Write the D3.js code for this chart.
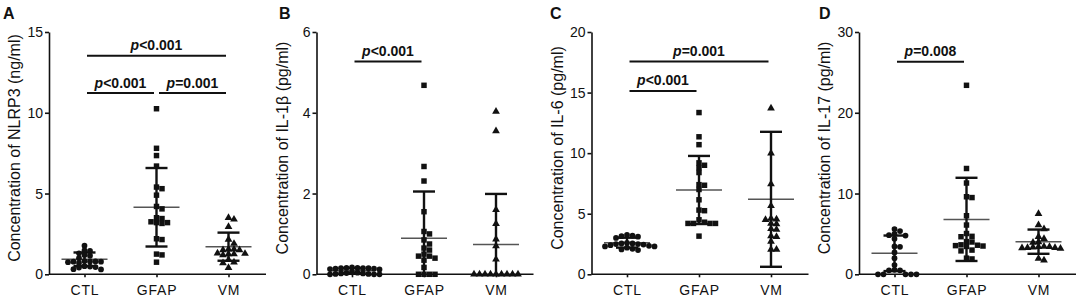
<!DOCTYPE html>
<html lang="en">
  <head>
    <meta charset="utf-8" />
    <title>Cytokine concentrations by group</title>
    <script src="https://cdnjs.cloudflare.com/ajax/libs/d3/7.8.5/d3.min.js"></script>
    <style type="text/css">
      body { margin: 0; background: #fff; }
      svg text { font-family: "Liberation Sans", Arial, sans-serif; fill: #111; }
    </style>
  </head>

  <body>
    <div id="chart"></div>
    <script>
      const groups = ['CTL', 'GFAP', 'VM'];

      // A - NLRP3 (ng/ml)
      const nlrp3CTL = [1.77, 1.48, 1.45, 1.3, 1.2, 1.15, 1.0, 0.82, 0.8, 0.8, 0.78, 0.78, 0.75, 0.7, 0.5, 0.48, 0.45, 0.42, 0.32, 0.3];
      const nlrp3GFAP = [10.25, 7.8, 7.35, 6.7, 5.4, 5.3, 4.9, 4.2, 4.05, 3.5, 3.45, 3.25, 3.2, 3.2, 3.15, 2.2, 2.15, 1.25, 1.2, 0.75];
      const nlrp3VM = [3.5, 3.4, 2.95, 2.15, 1.9, 1.55, 1.55, 1.5, 1.5, 1.3, 1.28, 1.25, 1.25, 1.2, 0.9, 0.75, 0.7, 0.4];
      const nlrp3Mean = [0.93, 4.15, 1.71];
      const nlrp3SD = [0.42, 2.43, 0.87];
      const nlrp3Ticks = [0, 5, 10, 15];

      // B - IL-1β (pg/ml)
      const il1bCTL = [0.17, 0.16, 0.16, 0.15, 0.15, 0.15, 0.14, 0.14, 0.13, 0.12, 0.05, 0.04, 0.03, 0.02, 0.02, 0.01, 0.01, 0, 0, 0];
      const il1bGFAP = [4.68, 2.67, 2.31, 1.55, 1.06, 1.0, 0.85, 0.75, 0.65, 0.6, 0.5, 0.45, 0.45, 0.4, 0.35, 0.17, 0, 0, 0, 0];
      const il1bVM = [4.03, 3.55, 1.6, 1.25, 0.87, 0.7, 0.37, 0, 0, 0, 0, 0, 0, 0, 0, 0];
      const il1bMean = [0.09, 0.89, 0.74];
      const il1bSD = [0.06, 1.16, 1.25];
      const il1bTicks = [0, 2, 4, 6];

      // C - IL-6 (pg/ml)
      const il6CTL = [3.25, 3.2, 3.15, 3.1, 3.0, 2.6, 2.55, 2.55, 2.5, 2.5, 2.45, 2.4, 2.35, 2.3, 2.3, 2.2, 2.1, 2.05, 2.0];
      const il6GFAP = [13.35, 11.35, 10.7, 9.2, 9.0, 8.8, 8.4, 7.4, 7.35, 7.0, 6.15, 5.3, 5.25, 4.5, 4.3, 4.2, 4.2, 4.2, 4.2, 3.15];
      const il6VM = [13.7, 10.0, 7.45, 5.65, 4.6, 4.55, 4.5, 4.2, 4.15, 3.75, 3.7, 3.15, 3.1, 2.7, 2.05, 2.05];
      const il6Mean = [2.61, 6.96, 6.19];
      const il6SD = [0.41, 2.81, 5.57];
      const il6Ticks = [0, 5, 10, 15, 20];

      // D - IL-17 (pg/ml)
      const il17CTL = [5.6, 5.35, 5.0, 4.85, 4.8, 4.4, 3.45, 3.4, 2.7, 2.0, 1.15, 0.55, 0.5, 0.5, 0, 0, 0, 0, 0];
      const il17GFAP = [23.4, 13.1, 11.3, 9.6, 9.5, 7.25, 6.1, 5.05, 4.7, 4.65, 4.05, 4.0, 3.65, 3.6, 3.55, 3.5, 3.45, 3.0, 2.9, 2.0, 1.9];
      const il17VM = [7.5, 6.1, 5.6, 4.65, 4.4, 4.0, 3.95, 3.45, 3.4, 3.4, 3.35, 3.3, 3.3, 3.25, 3.2, 1.95, 1.75];
      const il17Mean = [2.6, 6.8, 4.04];
      const il17SD = [2.2, 5.15, 1.5];
      const il17Ticks = [0, 10, 20, 30];

      // significance bars: [from, to, height, label]
      const nlrp3Sig = [['CTL', 'VM', 13.53, '<0.001'], ['CTL', 'GFAP', 11.22, '<0.001'], ['GFAP', 'VM', 11.22, '=0.001']];
      const il1bSig = [['CTL', 'GFAP', 5.27, '<0.001']];
      const il6Sig = [['CTL', 'VM', 17.56, '=0.001'], ['CTL', 'GFAP', 15.14, '<0.001']];
      const il17Sig = [['CTL', 'GFAP', 26.32, '=0.008']];

      const panels = [
        { letter: 'A', label: 'Concentration of NLRP3 (ng/ml)', ticks: nlrp3Ticks, values: [nlrp3CTL, nlrp3GFAP, nlrp3VM], mean: nlrp3Mean, sd: nlrp3SD, sig: nlrp3Sig, x0: 49, lx: 3 },
        { letter: 'B', label: 'Concentration of IL-1β (pg/ml)', ticks: il1bTicks, values: [il1bCTL, il1bGFAP, il1bVM], mean: il1bMean, sd: il1bSD, sig: il1bSig, x0: 316.5, lx: 279 },
        { letter: 'C', label: 'Concentration of IL-6 (pg/ml)', ticks: il6Ticks, values: [il6CTL, il6GFAP, il6VM], mean: il6Mean, sd: il6SD, sig: il6Sig, x0: 591.5, lx: 550 },
        { letter: 'D', label: 'Concentration of IL-17 (pg/ml)', ticks: il17Ticks, values: [il17CTL, il17GFAP, il17VM], mean: il17Mean, sd: il17SD, sig: il17Sig, x0: 859, lx: 819 },
      ];

      const W = 1084, H = 308;
      const yTop = 32, yBottom = 274.3;
      const ink = '#111';
      const symbols = [d3.symbolCircle, d3.symbolSquare, d3.symbolTriangle];
      const symSize = [26, 30, 26];

      const svg = d3.select('#chart')
        .append('svg')
        .attr('width', W)
        .attr('height', H);

      // simple beeswarm so overlapping points sit side by side
      function dodge(vals, y, step, minDy) {
        const placed = [];
        const offs = new Array(vals.length);
        const order = vals.map((v, i) => i).sort((a, b) => vals[b] - vals[a]);
        for (const i of order) {
          const py = y(vals[i]);
          for (let k = 0; ; k++) {
            const o = (k % 2 ? 1 : -1) * Math.ceil(k / 2) * step;
            const hit = placed.some(p => Math.abs(p.y - py) < minDy && Math.abs(p.x - o) < step * 0.9);
            if (!hit) {
              offs[i] = o;
              placed.push({ x: o, y: py });
              break;
            }
          }
        }
        return offs;
      }

      panels.forEach(p => {
        const g = svg.append('g');
        const x = d3.scalePoint().domain(groups).range([p.x0 + 35.5, p.x0 + 179.5]);
        const y = d3.scaleLinear().domain([0, d3.max(p.ticks)]).range([yBottom, yTop]);

        // panel letter
        g.append('text')
          .attr('x', p.lx).attr('y', 18.5)
          .attr('font-size', 16).attr('font-weight', 'bold')
          .text(p.letter);

        // y axis
        const ya = g.append('g')
          .attr('transform', `translate(${p.x0},0)`)
          .call(d3.axisLeft(y).tickValues(p.ticks).tickFormat(d3.format('d'))
            .tickSize(4).tickSizeOuter(0).tickPadding(2));
        ya.selectAll('path, line').attr('stroke', ink).attr('stroke-width', 1.6);
        ya.selectAll('text').attr('font-size', 14).attr('fill', '#111');

        // x axis
        const xa = g.append('g')
          .attr('transform', `translate(0,${yBottom})`)
          .call(d3.axisBottom(x).tickSize(3).tickSizeOuter(0).tickPadding(8));
        xa.select('.domain').attr('d', `M${p.x0},0H${p.x0 + 217}`);
        xa.selectAll('path, line').attr('stroke', ink).attr('stroke-width', 1.6);
        xa.selectAll('text').attr('font-size', 14).attr('letter-spacing', '0.8px').attr('fill', '#111');

        // y label
        g.append('text')
          .attr('transform', `translate(${p.x0 - 29},148) rotate(-90)`)
          .attr('text-anchor', 'middle')
          .attr('font-size', 16)
          .text(p.label);

        // mean lines
        g.selectAll('.mean')
          .data(groups)
          .join('line')
          .attr('x1', d => x(d) - 23).attr('x2', d => x(d) + 23)
          .attr('y1', (d, i) => y(p.mean[i])).attr('y2', (d, i) => y(p.mean[i]))
          .attr('stroke', '#555').attr('stroke-width', 1.5);

        // SD whiskers
        groups.forEach((grp, i) => {
          const hi = p.mean[i] + p.sd[i];
          const lo = Math.max(0, p.mean[i] - p.sd[i]);
          g.append('line')
            .attr('x1', x(grp)).attr('x2', x(grp))
            .attr('y1', y(hi)).attr('y2', y(lo))
            .attr('stroke', ink).attr('stroke-width', 2.4);
          const caps = p.mean[i] - p.sd[i] > 0 ? [hi, lo] : [hi];
          caps.forEach(v => {
            g.append('line')
              .attr('x1', x(grp) - 11).attr('x2', x(grp) + 11)
              .attr('y1', y(v)).attr('y2', y(v))
              .attr('stroke', ink).attr('stroke-width', 2.4);
          });
        });

        // points
        groups.forEach((grp, i) => {
          const vals = p.values[i];
          const offs = dodge(vals, y, 5.5, 4.5);
          g.selectAll(`.pt${i}`)
            .data(vals)
            .join('path')
            .attr('d', d3.symbol().type(symbols[i]).size(symSize[i]))
            .attr('transform', (d, j) => `translate(${x(grp) + offs[j]},${y(d)})`)
            .attr('fill', ink);
        });

        // significance bars
        p.sig.forEach(([a, b, h, lab]) => {
          const x1 = x(a) + 2.5, x2 = x(b) - 2.5;
          g.append('line')
            .attr('x1', x1).attr('x2', x2)
            .attr('y1', y(h)).attr('y2', y(h))
            .attr('stroke', ink).attr('stroke-width', 2);
          const t = g.append('text')
            .attr('x', (x1 + x2) / 2).attr('y', y(h) - 5.5)
            .attr('text-anchor', 'middle')
            .attr('font-size', 14).attr('font-weight', 'bold');
          t.append('tspan').attr('font-style', 'italic').text('p');
          t.append('tspan').text(lab);
        });
      });
    </script>
  </body>
</html>
